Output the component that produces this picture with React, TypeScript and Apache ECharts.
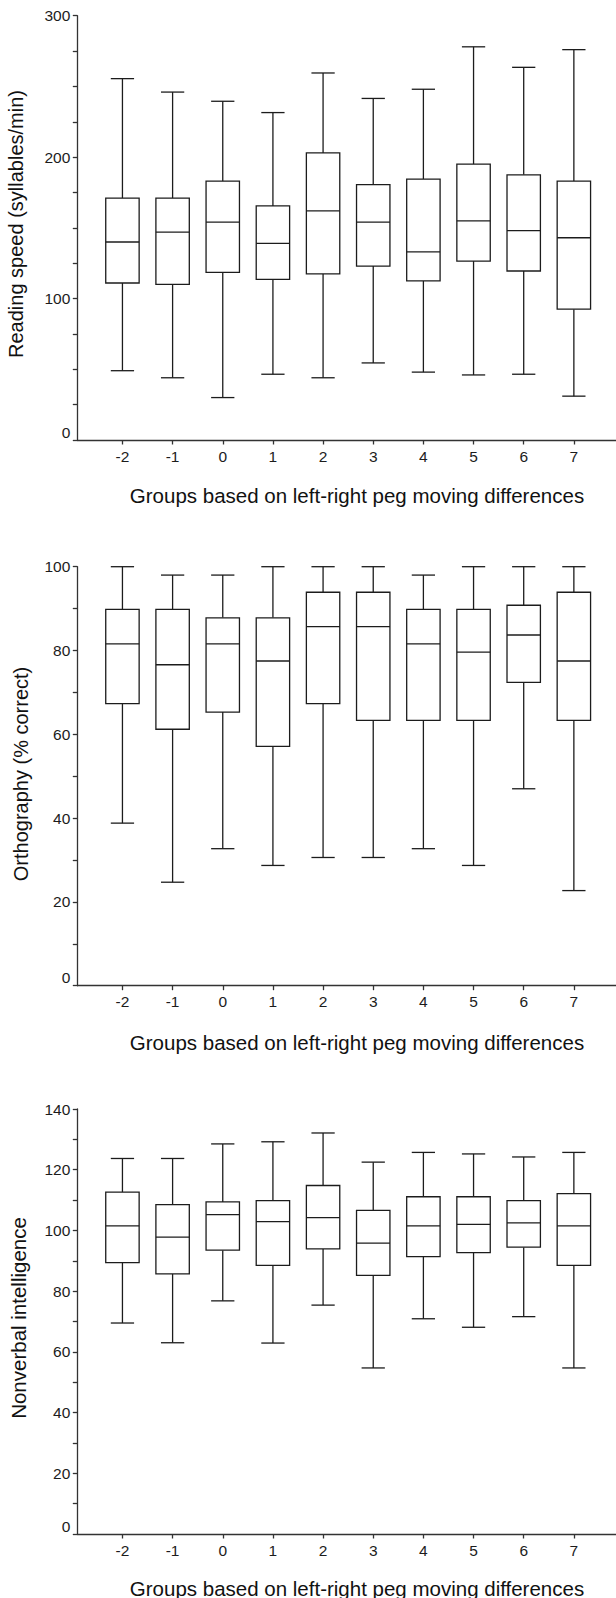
import React, { useEffect, useRef } from "react";
import * as echarts from "echarts";

// Groups based on left-right peg moving differences
const groups = [-2, -1, 0, 1, 2, 3, 4, 5, 6, 7];

// Panel 1: Reading speed (syllables/min) — whisker min, Q1, median, Q3, whisker max
const readMin = [49, 44, 30, 46.5, 44, 54.5, 48, 46, 46.5, 31];
const readQ1 = [111, 110, 118.5, 113.5, 117.5, 123, 112.5, 126.5, 119.5, 92.5];
const readMed = [140, 147, 154, 139, 162, 154, 133, 155, 148, 143];
const readQ3 = [171, 171, 183, 165.5, 203, 180.5, 184.5, 195, 187.5, 183];
const readMax = [255.5, 246, 239.5, 231.5, 259.5, 241.5, 248, 278, 263.5, 276];

// Panel 2: Orthography (% correct)
const orthMin = [38.8, 24.7, 32.7, 28.7, 30.6, 30.6, 32.7, 28.7, 47, 22.7];
const orthQ1 = [67.3, 61.2, 65.3, 57.1, 67.3, 63.3, 63.3, 63.3, 72.4, 63.3];
const orthMed = [81.6, 76.6, 81.6, 77.5, 85.7, 85.7, 81.6, 79.6, 83.7, 77.5];
const orthQ3 = [89.8, 89.8, 87.8, 87.8, 93.9, 93.9, 89.8, 89.8, 90.8, 93.9];
const orthMax = [100, 98, 98, 100, 100, 100, 98, 100, 100, 100];

// Panel 3: Nonverbal intelligence
const iqMin = [69.5, 63, 76.8, 62.9, 75.4, 54.7, 70.9, 68.1, 71.6, 54.7];
const iqQ1 = [89.4, 85.7, 93.5, 88.5, 93.9, 85.2, 91.4, 92.7, 94.5, 88.5];
const iqMed = [101.5, 97.8, 105.2, 102.9, 104.2, 95.8, 101.5, 102, 102.5, 101.5];
const iqQ3 = [112.6, 108.5, 109.4, 109.8, 114.8, 106.6, 111.1, 111.1, 109.8, 112.1];
const iqMax = [123.7, 123.7, 128.5, 129.2, 132.1, 122.5, 125.7, 125.2, 124.2, 125.7];

// Axis settings
const yTitles = ["Reading speed (syllables/min)", "Orthography (% correct)", "Nonverbal intelligence"];
const xTitle = "Groups based on left-right peg moving differences";
const yMax = [300, 100, 140];
const yTickStep = [25, 10, 10];
const yLabelStep = [100, 20, 20];

const FONT = '"Liberation Sans", Arial, Helvetica, sans-serif';
const INK = "#1c1c1c";
const AXIS = "#333333";

function rows(mins: number[], q1: number[], med: number[], q3: number[], max: number[]) {
  return groups.map((g, i) => [g, mins[i], q1[i], med[i], q3[i], max[i]]);
}

const renderBox = (_params: any, api: any) => {
  const x = api.value(0);
  const unit = api.size([1, 0])[0];
  const half = unit * 0.333;
  const capHalf = unit * 0.232;
  const pMin = api.coord([x, api.value(1)]);
  const pQ1 = api.coord([x, api.value(2)]);
  const pMed = api.coord([x, api.value(3)]);
  const pQ3 = api.coord([x, api.value(4)]);
  const pMax = api.coord([x, api.value(5)]);
  const cx = pMed[0];
  const style = { stroke: INK, lineWidth: 1.3, fill: "none" };
  return {
    type: "group",
    children: [
      { type: "line", shape: { x1: cx, y1: pMax[1], x2: cx, y2: pQ3[1] }, style },
      { type: "line", shape: { x1: cx, y1: pQ1[1], x2: cx, y2: pMin[1] }, style },
      { type: "line", shape: { x1: cx - capHalf, y1: pMax[1], x2: cx + capHalf, y2: pMax[1] }, style },
      { type: "line", shape: { x1: cx - capHalf, y1: pMin[1], x2: cx + capHalf, y2: pMin[1] }, style },
      {
        type: "rect",
        shape: { x: cx - half, y: pQ3[1], width: 2 * half, height: pQ1[1] - pQ3[1] },
        style: { stroke: INK, lineWidth: 1.3, fill: "#ffffff" },
      },
      { type: "line", shape: { x1: cx - half, y1: pMed[1], x2: cx + half, y2: pMed[1] }, style },
    ],
  };
};

const grids = [
  { left: 77.3, right: 0, top: 15.7, height: 424.3 },
  { left: 77.3, right: 0, top: 566.7, height: 419 },
  { left: 77.3, right: 0, top: 1109, height: 425 },
];

const xTitleY = [495, 1042, 1588];
const yTitlePos = [
  [16, 224, 20],
  [21, 774, 20],
  [18, 1318, 20.5],
];

export default function App() {
  const ref = useRef<HTMLDivElement>(null);

  useEffect(() => {
    if (!ref.current) return;
    const chart = echarts.init(ref.current, null, { renderer: "svg" });
    const panels = [
      rows(readMin, readQ1, readMed, readQ3, readMax),
      rows(orthMin, orthQ1, orthMed, orthQ3, orthMax),
      rows(iqMin, iqQ1, iqMed, iqQ3, iqMax),
    ];

    const labelStyle = { fontSize: 15.5, color: INK, fontFamily: FONT };

    const option: any = {
      animation: false,
      backgroundColor: "#ffffff",
      grid: grids,
      xAxis: grids.map((_, i) => ({
        type: "value",
        gridIndex: i,
        min: -2.9,
        max: 7.84,
        axisLine: { show: true, onZero: false, lineStyle: { color: AXIS, width: 1.3 } },
        axisTick: { show: true, length: 4.5, customValues: groups, lineStyle: { color: AXIS, width: 1.3 } },
        axisLabel: {
          ...labelStyle,
          margin: 8,
          customValues: groups,
          formatter: (v: number) => String(v),
        },
        splitLine: { show: false },
      })),
      yAxis: grids.map((_, i) => ({
        type: "value",
        gridIndex: i,
        min: 0,
        max: yMax[i],
        interval: yTickStep[i],
        axisLine: { show: true, onZero: false, lineStyle: { color: AXIS, width: 1.3 } },
        axisTick: { show: true, length: 4.5, lineStyle: { color: AXIS, width: 1.3 } },
        axisLabel: {
          ...labelStyle,
          margin: 7,
          formatter: (v: number) =>
            v === 0 ? "{z|0}" : v % yLabelStep[i] === 0 ? String(v) : "",
          rich: { z: { ...labelStyle, padding: [0, 0, 16, 0] } },
        },
        splitLine: { show: false },
      })),
      series: panels.map((data, i) => ({
        type: "custom",
        xAxisIndex: i,
        yAxisIndex: i,
        data,
        encode: { x: 0, y: [1, 2, 3, 4, 5] },
        renderItem: renderBox,
        clip: false,
      })),
      graphic: [
        ...xTitleY.map((y) => ({
          type: "text",
          x: 357,
          y,
          style: {
            text: xTitle,
            fontSize: 20.5,
            fontFamily: FONT,
            fill: "#111111",
            textAlign: "center",
            textVerticalAlign: "middle",
          },
        })),
        ...yTitlePos.map(([x, y, fs], i) => ({
          type: "text",
          x,
          y,
          rotation: Math.PI / 2,
          style: {
            text: yTitles[i],
            fontSize: fs,
            fontFamily: FONT,
            fill: "#111111",
            textAlign: "center",
            textVerticalAlign: "middle",
          },
        })),
      ],
    };

    chart.setOption(option);
    return () => chart.dispose();
  }, []);

  return (
    <div
      ref={ref}
      style={{ position: "absolute", left: 0, top: 0, width: 616, height: 1598, background: "#fff" }}
    />
  );
}
